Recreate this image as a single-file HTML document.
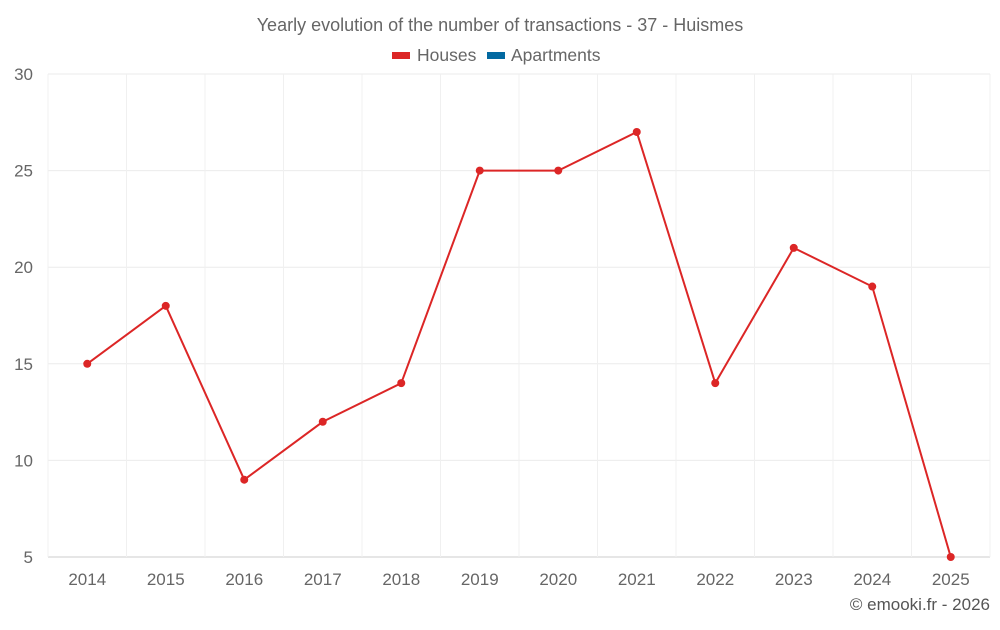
<!DOCTYPE html>
<html><head><meta charset="utf-8"><style>
body{margin:0;background:#fff;font-family:"Liberation Sans",sans-serif;}
svg text{font-family:"Liberation Sans",sans-serif;}
</style></head><body>
<svg id="c" width="1000" height="625">
<text x="500" y="31" text-anchor="middle" font-size="18" fill="#666">Yearly evolution of the number of transactions - 37 - Huismes</text>
<g>
<g><rect x="392" y="52" width="18" height="7" fill="#dc2626"/><text x="417" y="61" font-size="17.5" fill="#666">Houses</text></g>
<g><rect x="487" y="52" width="18" height="7" fill="#0369a1"/><text x="511" y="61" font-size="17.5" fill="#666">Apartments</text></g>
</g>
<g id="grid"></g><g id="axes"></g><g id="series"></g>
<text x="990" y="610" text-anchor="end" font-size="17" fill="#555">© emooki.fr - 2026</text>
</svg>
<script>
const categories=["2014","2015","2016","2017","2018","2019","2020","2021","2022","2023","2024","2025"];
const houses=[15,18,9,12,14,25,25,27,14,21,19,5];
const yTicks=[5,10,15,20,25,30];
const L=48,R=990,T=74,B=557,yMin=5,yMax=30;
const ns="http://www.w3.org/2000/svg";
const bw=(R-L)/categories.length;
function xs(i){return L+bw*(i+0.5);}
function ys(v){return B-(v-yMin)/(yMax-yMin)*(B-T);}
function mk(t,a,p){const e=document.createElementNS(ns,t);for(const k in a)e.setAttribute(k,a[k]);p.appendChild(e);return e;}
const g=document.getElementById('grid'),ax=document.getElementById('axes'),s=document.getElementById('series');
yTicks.forEach(v=>{
 const l=mk('line',{x1:L,x2:R,y1:ys(v),y2:ys(v),stroke:v===yMin?'#ccc':'#ebebeb'},g);
 
 
 const t=mk('text',{x:33,y:ys(v)+6,'text-anchor':'end','font-size':17,fill:'#666'},ax);
 t.textContent=v;
 
 
});
for(let i=0;i<=categories.length;i++){
 const l=mk('line',{x1:L+bw*i,x2:L+bw*i,y1:T,y2:B,stroke:'#f0f0f0'},g);
 
 
}
categories.forEach((c,i)=>{
 const t=mk('text',{x:xs(i),y:585,'text-anchor':'middle','font-size':17,fill:'#666'},ax);
 t.textContent=c;
 
 
});
const p=mk('polyline',{points:houses.map((v,i)=>xs(i)+','+ys(v)).join(' '),fill:'none',stroke:'#dc2626','stroke-width':2},s);


houses.forEach((v,i)=>{
 const c=mk('circle',{cx:xs(i),cy:ys(v),r:4,fill:'#dc2626'},s);
 
 
});
</script>
</body></html>
